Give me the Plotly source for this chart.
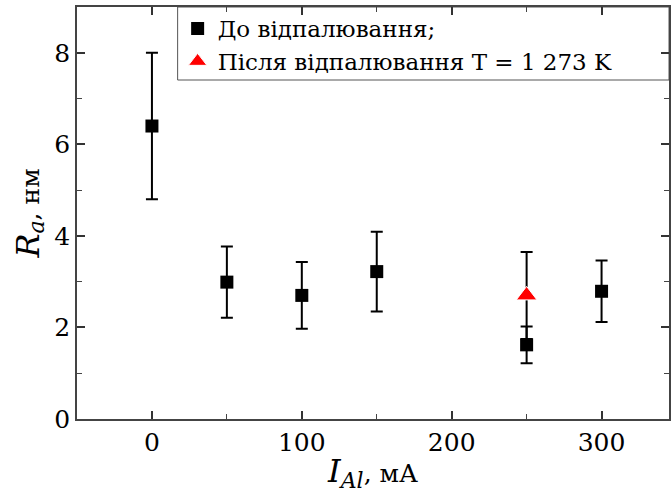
import plotly.graph_objects as go

x_before = [0, 50, 100, 150, 250, 300]
ra_before = [6.40, 2.99, 2.70, 3.22, 1.62, 2.79]
err_before = [1.60, 0.78, 0.73, 0.87, 0.40, 0.67]

x_after = [250]
ra_after = [2.70]
err_after = [0.95]

name_before = "До відпалювання;"
name_after = "Після відпалювання T = 1 273 K"

font_family = "DejaVu Serif"

fig = go.Figure()
fig.add_trace(go.Scatter(
    x=x_before, y=ra_before, mode="markers", name=name_before,
    marker=dict(symbol="square", size=13, color="black"),
    error_y=dict(type="data", array=err_before, color="black", thickness=2, width=6),
))
fig.add_trace(go.Scatter(
    x=x_after, y=ra_after, mode="markers", name=name_after,
    marker=dict(symbol="triangle-up", size=18, color="red", line=dict(color="white", width=1)),
    error_y=dict(type="data", array=err_after, color="black", thickness=2, width=6),
))

axis_common = dict(
    showline=True, linecolor="#444", linewidth=1.5, mirror="ticks",
    ticks="inside", ticklen=8, tickwidth=1.5, tickcolor="#333",
    showgrid=False, zeroline=False,
    tickfont=dict(family=font_family, size=25, color="black"),
)

big = "<span style='font-size:32px'><i>{}</i></span>"
sub = "<sub><span style='font-size:22px'><i>{}</i></span></sub>"

fig.update_xaxes(
    range=[-50, 345], tickvals=[0, 100, 200, 300],
    minor=dict(ticks="inside", ticklen=5, tickwidth=1.2, tickcolor="#444", tickvals=[50, 150, 250]),
    title=dict(text=big.format("I") + sub.format("Al") + ", мА",
               font=dict(family=font_family, size=25, color="black"), standoff=9),
    **axis_common,
)
fig.update_yaxes(
    range=[0, 9], tickvals=[0, 2, 4, 6, 8],
    minor=dict(ticks="inside", ticklen=5, tickwidth=1.2, tickcolor="#444", tickvals=[1, 3, 5, 7]),
    title=dict(text=big.format("R") + sub.format("a") + ", нм",
               font=dict(family=font_family, size=25, color="black"), standoff=8),
    **axis_common,
)

fig.add_shape(type="rect", xref="paper", yref="paper",
              x0=0.17, x1=1.0, y0=(419 - 80) / 412, y1=1.0,
              line=dict(color="#555", width=1), fillcolor="white", layer="below")

fig.update_layout(
    width=672, height=503,
    margin=dict(l=77, r=1, t=7, b=84),
    plot_bgcolor="white", paper_bgcolor="white",
    font=dict(family=font_family),
    showlegend=True,
    legend=dict(x=0.17, y=1.0, xanchor="left", yanchor="top",
                bgcolor="rgba(0,0,0,0)", borderwidth=0,
                font=dict(family=font_family, size=23, color="black"),
                tracegroupgap=0),
)

fig.write_html("out.html")
